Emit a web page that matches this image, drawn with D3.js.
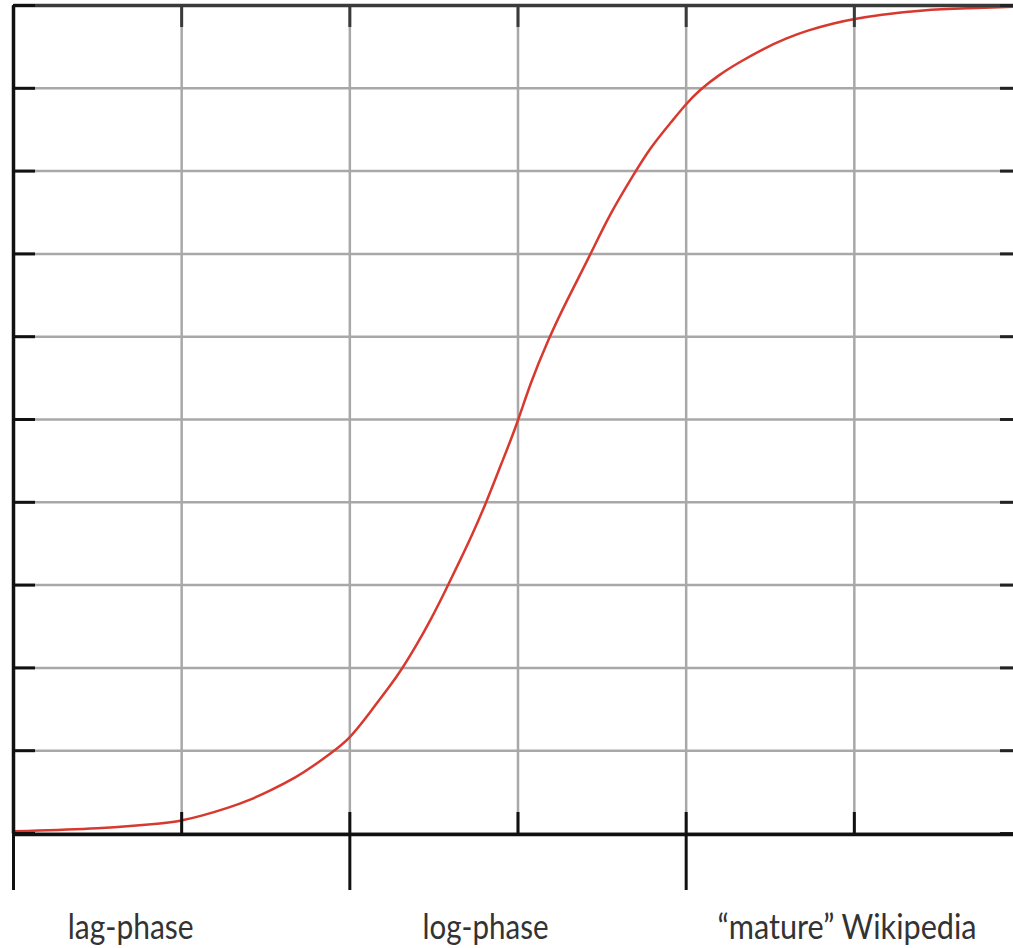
<!DOCTYPE html>
<html>
<head>
<meta charset="utf-8">
<script src="https://cdn.jsdelivr.net/npm/d3@7"></script>
<style>
  body { margin: 0; background: #fff; }
  svg { display: block; }
</style>
</head>
<body>
<svg width="1013" height="948"></svg>
<script>
// curve (x in grid units, y in grid units)
const xs = [0, 0.52, 0.93, 1.0, 1.11, 1.29, 1.41, 1.53, 1.69, 1.78, 1.88, 2.0, 2.12, 2.24, 2.31, 2.4, 2.48, 2.57, 2.66, 2.73, 2.81, 2.9, 3.0,
  3.07, 3.18, 3.29, 3.43, 3.55, 3.69, 3.79, 3.92, 4.0, 4.08, 4.2, 4.32, 4.46, 4.6, 4.72, 4.88, 5.0, 5.15, 5.41, 5.69, 5.95];
const ys = [0.02, 0.05, 0.12, 0.15, 0.2, 0.31, 0.4, 0.51, 0.68, 0.8, 0.95, 1.13, 1.45, 1.77, 1.97, 2.27, 2.56, 2.92, 3.3, 3.6, 3.97, 4.44, 4.95,
  5.4, 5.95, 6.42, 6.97, 7.48, 7.95, 8.28, 8.6, 8.8, 8.97, 9.16, 9.31, 9.47, 9.6, 9.69, 9.78, 9.83, 9.88, 9.94, 9.96, 9.98];

const xTicks = [0, 1, 2, 3, 4, 5, 6];
const yTicks = [0, 1, 2, 3, 4, 5, 6, 7, 8, 9, 10];
const phaseTicks = [0, 2, 4];
const labels = ["lag-phase", "log-phase", "\u201cmature\u201d Wikipedia"];
const labelX = [0.70, 2.81, 4.96];

const data = xs.map((x, i) => ({ x: x, y: ys[i] }));

const svg = d3.select("svg");

const x = d3.scaleLinear().domain([0, 6]).range([13, 1022]);
const y = d3.scaleLinear().domain([0, 10]).range([833, 5]);

// grid
svg.append("g")
  .attr("transform", "translate(0,833)")
  .call(d3.axisBottom(x).tickValues(xTicks).tickSize(-828).tickFormat(""))
  .call(g => g.select(".domain").remove())
  .call(g => g.selectAll("line").attr("stroke", "#a8a8a8").attr("stroke-width", 2.5));

svg.append("g")
  .attr("transform", "translate(13,0)")
  .call(d3.axisLeft(y).tickValues(yTicks).tickSize(-1009).tickFormat(""))
  .call(g => g.select(".domain").remove())
  .call(g => g.selectAll("line").attr("stroke", "#a8a8a8").attr("stroke-width", 2.5));

// curve
svg.append("path")
  .datum(data)
  .attr("fill", "none")
  .attr("stroke", "#d7392e")
  .attr("stroke-width", 2.5)
  .attr("d", d3.line().x(d => x(d.x)).y(d => y(d.y)).curve(d3.curveBasis));

// frame axes with inner ticks
function styleAxis(g, color) {
  g.select(".domain").attr("stroke", color).attr("stroke-width", 3.5);
  g.selectAll("line").attr("stroke", color).attr("stroke-width", 3);
}

svg.append("g")
  .attr("transform", "translate(0,5)")
  .call(d3.axisTop(x).tickValues(xTicks).tickSize(-22).tickSizeOuter(0).tickFormat(""))
  .call(g => styleAxis(g, "#3a3a3a"));

svg.append("g")
  .attr("transform", "translate(1022,0)")
  .call(d3.axisRight(y).tickValues(yTicks).tickSize(-22).tickSizeOuter(0).tickFormat(""))
  .call(g => styleAxis(g, "#222"));

svg.append("g")
  .attr("transform", "translate(0,834)")
  .call(d3.axisBottom(x).tickValues(xTicks).tickSize(-22).tickSizeOuter(0).tickFormat(""))
  .call(g => styleAxis(g, "#111"));

svg.append("g")
  .attr("transform", "translate(13,0)")
  .call(d3.axisLeft(y).tickValues(yTicks).tickSize(-22).tickSizeOuter(0).tickFormat(""))
  .call(g => styleAxis(g, "#111"));

// long phase ticks below the axis
svg.append("g")
  .attr("transform", "translate(0,834)")
  .call(d3.axisBottom(x).tickValues(phaseTicks).tickSize(56).tickFormat(""))
  .call(g => g.select(".domain").remove())
  .call(g => g.selectAll("line").attr("stroke", "#111").attr("stroke-width", 3));

// phase labels
const labelW = [126, 126, 259];
svg.append("g")
  .selectAll("text")
  .data(labels)
  .join("text")
  .attr("x", (d, i) => x(labelX[i]))
  .attr("y", 939)
  .attr("text-anchor", "middle")
  .attr("font-family", "Lato, 'Open Sans', sans-serif")
  .attr("font-size", 34)
  .attr("fill", "#333")
  .attr("textLength", (d, i) => labelW[i])
  .attr("lengthAdjust", "spacingAndGlyphs")
  .text(d => d);
</script>
</body>
</html>
